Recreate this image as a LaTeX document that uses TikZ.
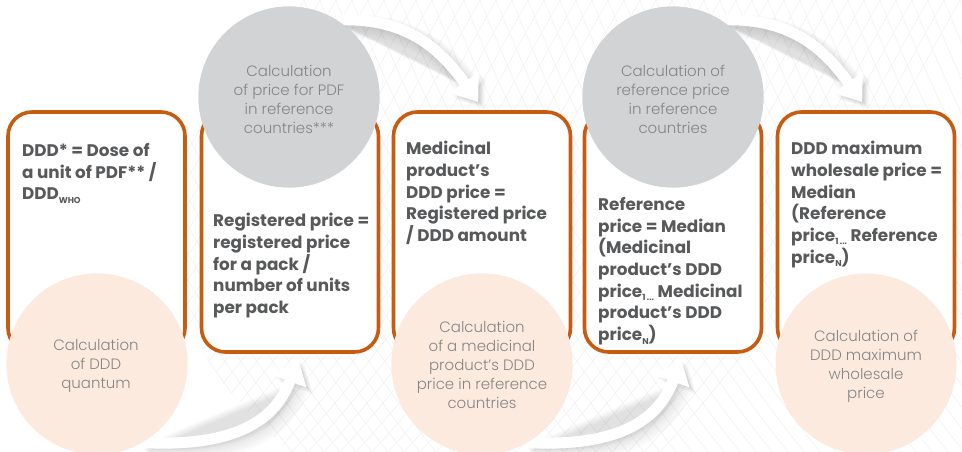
\documentclass[tikz,border=0pt]{standalone}
\usepackage{fontspec}
\setmainfont{Poppins}
\newfontfamily\lightfont{Poppins Light}
\usetikzlibrary{arrows.meta}
\definecolor{orng}{HTML}{C75B12}
\definecolor{peach}{HTML}{FDEADF}
\definecolor{cgray}{HTML}{D1D3D4}
\definecolor{btxt}{HTML}{58595B}
\definecolor{ctxt}{HTML}{858585}
\definecolor{meshc}{HTML}{EFEFEF}
\newcommand{\lowsub}[1]{\raisebox{-3.5pt}{\fontsize{8.5}{8.5}\selectfont #1}}
\begin{document}
\begin{tikzpicture}[x=1pt,y=-1pt,
  box/.style={draw=orng, line width=3.6pt, rounded corners=24pt, fill=white,
    minimum width=177pt, minimum height=240pt, inner sep=0pt},
  btext/.style={anchor=north west, align=left, inner sep=0pt, text=btxt,
    font=\fontsize{16.8}{21.7}\selectfont\bfseries},
  peachc/.style={circle, fill=peach, minimum size=181pt, inner sep=0pt},
  grayc/.style={circle, fill=cgray, minimum size=181pt, inner sep=0pt},
  ctext/.style={align=center, inner sep=0pt, text=ctxt,
    font=\fontsize{15}{19}\selectfont\lightfont},
  flow/.style={draw=white, line width=11pt, -{Triangle[width=34pt,length=24pt]}},
  flowshadow/.style={draw=black, draw opacity=0.018, line width=#1,
    -{Triangle[width=34pt,length=24pt]}, fill opacity=0.018, fill=black},
  topcurve/.style={out=3, in=125, looseness=1.05},
  botcurve/.style={out=-3, in=-110, looseness=1.1}
]
\useasboundingbox (0,0) rectangle (962,452);
% background mesh
\begin{scope}
  \clip (640,230) ellipse [x radius=470pt, y radius=330pt];
  \foreach \i in {-40,...,60} {
    \draw[meshc, line width=0.5pt] (\i*16,0) .. controls (\i*16+60,150) and (\i*16+140,300) .. (\i*16+260,452);
    \draw[meshc, line width=0.5pt] (\i*16,0) .. controls (\i*16-90,160) and (\i*16-160,300) .. (\i*16-300,452);
  }
\end{scope}

% boxes
\node[box] (b1) at (96.5,232) {};
\node[box] (b2) at (290,232) {};
\node[box] (b3) at (482,232) {};
\node[box] (b4) at (673,232) {};
\node[box] (b5) at (866,232) {};

% circles
\node[peachc] (p1) at (97,364) {};
\node[grayc]  (g1) at (289,97) {};
\node[peachc] (p2) at (482,364) {};
\node[grayc]  (g2) at (673,97) {};
\node[peachc] (p3) at (866,364) {};

% arrows (soft shadows then white)
\foreach \w/\s in {24pt/7pt,21pt/6pt,18pt/5pt,15pt/4pt,13pt/3pt,11pt/2pt} {
  \path[flowshadow=\w, transform canvas={xshift=\s,yshift=-\s}]
    (g1.58) to[topcurve] ([xshift=-4pt,yshift=8pt]b3.north);
  \path[flowshadow=\w, transform canvas={xshift=\s,yshift=-\s}]
    (g2.58) to[topcurve] ([xshift=-4pt,yshift=8pt]b5.north);
  \path[flowshadow=\w, transform canvas={xshift=\s,yshift=-\s}]
    (p1.-60) to[botcurve] ([xshift=8pt,yshift=-5pt]b2.south);
  \path[flowshadow=\w, transform canvas={xshift=\s,yshift=-\s}]
    (p2.-60) to[botcurve] ([xshift=8pt,yshift=-5pt]b4.south);
}
\draw[flow] (g1.58) to[topcurve] ([xshift=-4pt,yshift=8pt]b3.north);
\draw[flow] (g2.58) to[topcurve] ([xshift=-4pt,yshift=8pt]b5.north);
\draw[flow] (p1.-60) to[botcurve] ([xshift=8pt,yshift=-5pt]b2.south);
\draw[flow] (p2.-60) to[botcurve] ([xshift=8pt,yshift=-5pt]b4.south);

% redraw circles over arrow starts
\node[peachc] at (p1) {};
\node[grayc]  at (g1) {};
\node[peachc] at (p2) {};
\node[grayc]  at (g2) {};

% box texts
\node[btext] (t1) at (22,143) {DDD* = Dose of\\a unit of PDF** /\\DDD\lowsub{WHO}};
\node[btext] (t2) at (213,213) {Registered price =\\registered price\\for a pack /\\number of units\\per pack};
\node[btext] (t3) at (406,141) {Medicinal\\product’s\\DDD price =\\Registered price\\/ DDD amount};
\node[btext] (t4) at (598,197) {Reference\\price = Median\\(Medicinal\\product’s DDD\\price\lowsub{1\,...} Medicinal\\product’s DDD\\price\lowsub{N})};
\node[btext] (t5) at (791,141) {DDD maximum\\wholesale price =\\Median\\(Reference\\price\lowsub{1\,...} Reference\\price\lowsub{N})};

% circle texts
\node[ctext] (c1) at (96,366) {Calculation\\of DDD\\quantum};
\node[ctext] (c2) at (289,99) {Calculation\\of price for PDF\\in reference\\countries***};
\node[ctext] (c3) at (482,365) {Calculation\\of a medicinal\\product’s DDD\\price in reference\\countries};
\node[ctext] (c4) at (673,99) {Calculation of\\reference price\\in reference\\countries};
\node[ctext] (c5) at (866,366) {Calculation of\\DDD maximum\\wholesale\\price};
\end{tikzpicture}
\end{document}
